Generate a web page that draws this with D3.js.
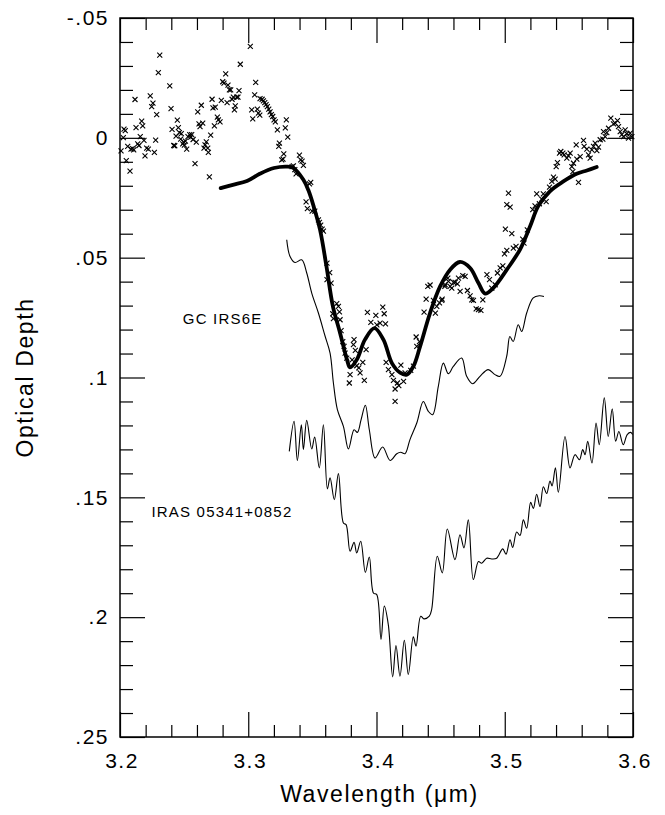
<!DOCTYPE html>
<html>
<head>
<meta charset="utf-8">
<script src="https://cdn.jsdelivr.net/npm/d3@7"></script>
<style>
  body { margin: 0; background: #fff; }
  text { font-family: "Liberation Sans", Arial, sans-serif; fill: #000; }
</style>
</head>
<body>
<script>
// observed optical depth, GC IRS6E (x markers)
var points = [
  [3.2008,0.0054],[3.2026,-0.0001],[3.2031,-0.0036],[3.2041,-0.003],[3.2049,0.0095],[3.206,0.0036],
  [3.2078,0.0139],[3.2086,0.0047],[3.2099,0.0045],[3.2107,0.005],[3.2117,-0.016],[3.2125,-0.0043],
  [3.2138,0.0025],[3.2148,0.0032],[3.2158,-0.0005],[3.2169,-0.007],[3.2177,-0.005],[3.2187,0.0011],
  [3.2195,0.0075],[3.2208,0.0043],[3.2221,0.0047],[3.2236,-0.0175],[3.2247,-0.013],[3.2257,-0.0145],
  [3.2268,0.0061],[3.2278,0.001],[3.2286,-0.0097],[3.2299,-0.0272],[3.231,-0.0345],[3.2388,-0.0217],
  [3.2398,-0.0122],[3.2406,-0.0035],[3.2419,0.0032],[3.2427,0.0033],[3.2437,-0.0007],[3.2447,-0.0074],
  [3.2455,-0.0043],[3.2463,-0.0022],[3.2473,0.0005],[3.2478,-0.0018],[3.2489,0.0025],[3.2497,0.0018],
  [3.2502,0.003],[3.251,0.0014],[3.252,0.0047],[3.253,-0.0005],[3.2544,-0.0013],[3.2551,-0.0003],
  [3.2559,-0.0013],[3.257,0.0007],[3.2585,0.0108],[3.2595,0.0018],[3.2606,-0.0108],[3.2616,-0.0058],
  [3.2624,-0.0047],[3.2634,-0.0136],[3.2645,-0.0061],[3.2655,0.0043],[3.2663,0.0029],[3.2673,0.0017],
  [3.2684,0.0043],[3.2689,0.0061],[3.2697,0.0163],[3.2707,-0.0011],[3.2718,-0.0161],[3.2725,-0.0125],
  [3.2736,-0.005],[3.2743,-0.0128],[3.2759,-0.0086],[3.2767,-0.0075],[3.278,-0.0067],[3.279,-0.0156],
  [3.2801,-0.0234],[3.2811,-0.0228],[3.2824,-0.0267],[3.2835,-0.0147],[3.2842,-0.022],[3.2853,-0.02],
  [3.2863,-0.02],[3.2874,-0.0161],[3.2884,-0.017],[3.2892,-0.0117],[3.2899,-0.0133],[3.291,-0.017],
  [3.292,-0.017],[3.2928,-0.0197],[3.2938,-0.0307],[3.3016,-0.0382],[3.3027,-0.0117],[3.3035,-0.0079],
  [3.3058,-0.0231],[3.305,-0.0179],[3.3079,-0.0103],[3.309,-0.0095],[3.3071,-0.012],
  [3.3092,-0.0164],[3.3108,-0.0161],[3.3118,-0.0154],[3.3129,-0.0147],[3.3139,-0.0139],[3.3149,-0.013],
  [3.316,-0.012],[3.317,-0.0108],[3.318,-0.0097],[3.3191,-0.0089],[3.3201,-0.0075],[3.3211,-0.0067],
  [3.3227,-0.0033],[3.3243,0.0022],[3.3238,0.0036],[3.3261,0.0092],[3.3271,0.0089],[3.3277,0.0067],
  [3.3289,-0.0042],[3.3297,-0.0075],[3.3308,-0.0003],[3.3342,0.012],[3.3352,0.0117],[3.3363,0.0133],
  [3.3373,0.015],[3.3399,0.0072],[3.3409,0.0092],[3.342,0.0097],[3.343,0.0115],[3.3451,0.0267],
  [3.3461,0.0295],[3.3477,0.0192],[3.3487,0.0186],[3.3498,0.0306],[3.3519,0.0306],[3.3547,0.0342],
  [3.3555,0.0353],[3.3565,0.0364],[3.3576,0.0381],[3.3586,0.0389],
  [3.3614,0.0523],[3.3635,0.0562],[3.3614,0.0592],[3.3646,0.0606],[3.369,0.0692],[3.3703,0.0703],
  [3.3711,0.0726],[3.3659,0.0734],[3.3664,0.0754],[3.3716,0.0759],[3.3724,0.0804],[3.3737,0.085],
  [3.3747,0.087],[3.3755,0.0898],[3.3768,0.0919],[3.3825,0.0842],[3.382,0.0863],[3.3835,0.0887],
  [3.381,0.0926],[3.3846,0.0951],[3.3862,0.096],[3.3872,0.0981],[3.3893,0.0937],[3.3794,0.0988],
  [3.3788,0.1023],[3.3905,0.1012],[3.3919,0.0884],[3.3929,0.0728],[3.3956,0.077],[3.3995,0.0741],
  [3.4003,0.078],[3.4028,0.0773],[3.4049,0.0706],[3.406,0.0734],[3.407,0.0776],[3.4075,0.0937],
  [3.4093,0.0967],[3.412,0.0988],[3.4132,0.1012],[3.4163,0.1023],[3.4145,0.1048],[3.4174,0.1034],
  [3.419,0.0948],[3.4211,0.1016],[3.4145,0.11],[3.4223,0.0981],[3.4267,0.097],[3.4288,0.0953],
  [3.4309,0.0831],[3.4314,0.087],[3.4335,0.085],[3.4371,0.0727],[3.4387,0.0673],[3.44,0.062],
  [3.4418,0.0614],[3.4444,0.0678],[3.4459,0.0731],[3.447,0.0703],[3.4491,0.0689],[3.4512,0.0673],
  [3.4533,0.062],[3.4556,0.0585],[3.4574,0.062],[3.46,0.0603],[3.4631,0.0609],
  [3.4509,0.0678],[3.4535,0.0613],[3.4561,0.0599],[3.4587,0.0627],[3.4613,0.0603],[3.4639,0.0585],
  [3.4652,0.0641],[3.4673,0.0575],[3.4691,0.0578],[3.4709,0.0637],[3.473,0.0659],[3.4743,0.0676],
  [3.4756,0.0678],[3.4777,0.0714],[3.4795,0.0717],[3.4814,0.072],[3.4829,0.0676],[3.4861,0.0571],
  [3.4881,0.0592],[3.4899,0.0627],[3.4925,0.0613],[3.4943,0.0564],[3.4964,0.0543],[3.4985,0.0534],
  [3.4998,0.0484],[3.5016,0.047],[3.5005,0.0381],[3.5055,0.04],[3.5016,0.0279],[3.5042,0.0289],
  [3.5029,0.0231],[3.5067,0.046],[3.5088,0.0453],[3.514,0.0423],[3.515,0.0439],[3.5176,0.0384],
  [3.5218,0.03],[3.5236,0.0284],[3.5249,0.0234],[3.527,0.0275],[3.5288,0.0256],[3.5301,0.0234],
  [3.5323,0.0266],[3.5349,0.0206],[3.5367,0.0182],[3.538,0.0164],[3.5393,0.0172],[3.5401,0.012],
  [3.5411,0.0103],[3.5427,0.0064],[3.5437,0.0057],[3.5453,0.0064],[3.5463,0.0071],[3.5484,0.0085],
  [3.5497,0.0075],[3.551,0.0064],[3.5523,0.012],[3.5536,0.0106],[3.5531,0.0141],[3.5562,0.0089],
  [3.5575,0.0186],[3.5557,0.0029],[3.5588,0.0078],[3.5614,0.0011],[3.5619,0.0036],[3.564,0.0047],
  [3.5653,0.0071],[3.5666,0.0085],[3.5679,0.005],[3.5692,0.0036],[3.5705,0.0022],[3.5718,0.0053],
  [3.5731,0.0039],[3.5744,0.0008],[3.5765,0.0005],[3.5783,-0.0005],[3.577,-0.0026],[3.5796,-0.0022],
  [3.5809,-0.004],[3.5827,-0.0082],[3.5848,-0.0058],[3.5861,-0.0061],[3.5879,-0.0072],[3.5887,-0.0047],
  [3.59,-0.0026],[3.5913,-0.0013],[3.5926,-0.0005],[3.5939,-0.0033],[3.5952,-0.0017],[3.5965,0.0001],
  [3.5978,-0.002],[3.5991,-0.0005]
];

// fitted model (thick line)
var modelFit = [
  [3.2785,0.021],[3.288,0.0196],[3.299,0.018],[3.309,0.015],[3.320,0.0126],[3.330,0.012],[3.335,0.0125],
  [3.343,0.0175],[3.347,0.022],[3.351,0.0286],[3.356,0.0384],[3.361,0.0537],[3.366,0.0703],[3.3716,0.0814],
  [3.377,0.0926],[3.3794,0.0958],[3.3846,0.0926],[3.391,0.0842],[3.3984,0.0794],[3.4054,0.0842],
  [3.412,0.094],[3.4184,0.098],[3.4236,0.0988],[3.4288,0.0953],[3.434,0.087],[3.4418,0.073],
  [3.4496,0.062],[3.4574,0.055],[3.465,0.0518],[3.473,0.0543],[3.4795,0.0606],[3.4847,0.065],
  [3.491,0.0627],[3.5016,0.055],[3.512,0.0465],[3.5197,0.037],[3.526,0.0286],[3.535,0.0224],
  [3.5457,0.0182],[3.556,0.015],[3.564,0.0136],[3.5717,0.0122]
];

// GC IRS6E spectrum, offset
var gcSpectrum = [
  [3.33,0.0425],[3.3326,0.0495],[3.3365,0.052],[3.3417,0.0509],[3.3456,0.0564],[3.3495,0.0648],
  [3.3547,0.0731],[3.36,0.0829],[3.3638,0.0898],[3.3664,0.1023],[3.3695,0.1134],[3.3742,0.1204],
  [3.3781,0.1298],[3.3825,0.1218],[3.3851,0.1229],[3.388,0.1176],[3.3913,0.1116],[3.3944,0.1218],
  [3.3989,0.1336],[3.4048,0.129],[3.4106,0.1346],[3.4158,0.1318],[3.4189,0.1312],[3.4222,0.1318],
  [3.4261,0.1259],[3.4314,0.119],[3.4365,0.11],[3.4404,0.1141],[3.4438,0.1155],[3.4482,0.1037],
  [3.4521,0.094],[3.456,0.0984],[3.4599,0.0954],[3.4664,0.0919],[3.4703,0.0995],[3.475,0.1026],
  [3.4807,0.0995],[3.4871,0.0967],[3.4924,0.0988],[3.4963,0.0995],[3.5015,0.0912],[3.504,0.0829],
  [3.5066,0.085],[3.5105,0.078],[3.5132,0.0808],[3.5171,0.0731],[3.5222,0.0668],[3.5269,0.0659],
  [3.5306,0.0662]
];

// IRAS 05341+0852 spectrum, offset
var irasSpectrum = [
  [3.332,0.1308],[3.3357,0.1183],[3.3383,0.1346],[3.3414,0.1197],[3.343,0.1301],[3.3456,0.1179],
  [3.3495,0.1298],[3.3518,0.1248],[3.3554,0.1377],[3.3586,0.1197],[3.3617,0.1465],[3.3638,0.1419],
  [3.3671,0.151],[3.3703,0.1401],[3.3742,0.1607],[3.3763,0.1614],[3.3794,0.1725],[3.3825,0.1688],
  [3.3846,0.1732],[3.3877,0.1683],[3.3913,0.1813],[3.3944,0.1749],[3.3976,0.1899],[3.4002,0.1906],
  [3.4035,0.2093],[3.4061,0.1954],[3.4092,0.2031],[3.4126,0.2249],[3.4152,0.2118],[3.4183,0.2246],
  [3.4217,0.2096],[3.4248,0.2239],[3.4287,0.2082],[3.4308,0.2121],[3.4345,0.1996],[3.437,0.2007],
  [3.4412,0.1996],[3.443,0.1968],[3.4474,0.1746],[3.4513,0.1815],[3.4552,0.1632],[3.4612,0.176],
  [3.4651,0.1656],[3.4682,0.1711],[3.4716,0.1594],[3.4755,0.1843],[3.4795,0.1768],[3.482,0.1775],
  [3.4859,0.1754],[3.4898,0.1757],[3.4937,0.1754],[3.4984,0.1715],[3.501,0.1737],[3.5041,0.1677],
  [3.5062,0.1709],[3.5093,0.1645],[3.5119,0.1659],[3.5145,0.1594],[3.5171,0.1629],[3.5202,0.1521],
  [3.5223,0.1546],[3.5249,0.1487],[3.5275,0.1539],[3.5301,0.1456],[3.5327,0.1484],[3.5353,0.1432],
  [3.5369,0.1452],[3.5395,0.1377],[3.5418,0.1479],[3.547,0.1246],[3.5509,0.1377],[3.5548,0.1322],
  [3.5582,0.1343],[3.5608,0.1301],[3.5626,0.1322],[3.5647,0.1266],[3.568,0.1357],[3.5712,0.119],
  [3.5737,0.128],[3.5776,0.1085],[3.5807,0.1246],[3.5838,0.1131],[3.5865,0.1266],[3.589,0.1225],
  [3.5924,0.128],[3.5955,0.1238],[3.5982,0.1229],[3.5997,0.1238]
];

var xMajor = [3.2, 3.3, 3.4, 3.5, 3.6];
var yMajor = [-0.05, 0, 0.05, 0.1, 0.15, 0.2, 0.25];
var yTickLabels = ["-.05", "0", ".05", ".1", ".15", ".2", ".25"];

var labels = [
  {text: "GC IRS6E", wl: 3.2490, tau: 0.0778},
  {text: "IRAS 05341+0852", wl: 3.2245, tau: 0.1584}
];

var width = 665,
    height = 815,
    plotLeft = 120, plotRight = 633, plotTop = 18, plotBottom = 737;

var svg = d3.select("body").append("svg")
    .attr("width", width)
    .attr("height", height);

var x = d3.scaleLinear().domain([3.2, 3.6]).range([plotLeft, plotRight]);
var y = d3.scaleLinear().domain([-0.05, 0.25]).range([plotTop, plotBottom]);

// minor ticks
var xMinor = d3.range(0, 21).map(function(i) { return +(3.2 + i * 0.02).toFixed(2); })
    .filter(function(v) { return xMajor.indexOf(v) < 0; });
var yMinor = d3.range(0, 31).map(function(i) { return +(-0.05 + i * 0.01).toFixed(2); })
    .filter(function(v) { return yMajor.indexOf(v) < 0; });

function noLabel() { return ""; }

// bottom axis
svg.append("g").attr("transform", "translate(0," + plotBottom + ")")
    .call(d3.axisBottom(x).tickValues(xMinor).tickSize(-12).tickSizeOuter(0).tickFormat(noLabel));
var xAxis = svg.append("g").attr("transform", "translate(0," + plotBottom + ")")
    .call(d3.axisBottom(x).tickValues(xMajor).tickSize(-25).tickSizeOuter(0)
      .tickFormat(d3.format(".1f")));
xAxis.selectAll("text").attr("y", 31).attr("dy", 0).attr("dx", "0.07em");

// top axis
svg.append("g").attr("transform", "translate(0," + plotTop + ")")
    .call(d3.axisTop(x).tickValues(xMinor).tickSize(-12).tickSizeOuter(0).tickFormat(noLabel));
svg.append("g").attr("transform", "translate(0," + plotTop + ")")
    .call(d3.axisTop(x).tickValues(xMajor).tickSize(-25).tickSizeOuter(0).tickFormat(noLabel));

// left axis
svg.append("g").attr("transform", "translate(" + plotLeft + ",0)")
    .call(d3.axisLeft(y).tickValues(yMinor).tickSize(-13).tickSizeOuter(0).tickFormat(noLabel));
svg.append("g").attr("transform", "translate(" + plotLeft + ",0)")
    .call(d3.axisLeft(y).tickValues(yMajor).tickSize(-25).tickSizeOuter(0).tickPadding(11)
      .tickFormat(function(d, i) { return yTickLabels[i]; }));

// right axis
svg.append("g").attr("transform", "translate(" + plotRight + ",0)")
    .call(d3.axisRight(y).tickValues(yMinor).tickSize(-13).tickSizeOuter(0).tickFormat(noLabel));
svg.append("g").attr("transform", "translate(" + plotRight + ",0)")
    .call(d3.axisRight(y).tickValues(yMajor).tickSize(-25).tickSizeOuter(0).tickFormat(noLabel));

svg.selectAll(".tick line").attr("stroke", "#000").attr("stroke-width", 1.2);
svg.selectAll(".domain").remove();
svg.selectAll(".tick text")
    .attr("font-family", null).attr("font-size", null)
    .style("font-family", "Liberation Sans, Arial, sans-serif")
    .style("font-size", "21px")
    .style("letter-spacing", "1.5px")
    .attr("fill", "#000");

// frame
svg.append("rect")
    .attr("x", plotLeft).attr("y", plotTop)
    .attr("width", plotRight - plotLeft).attr("height", plotBottom - plotTop)
    .attr("fill", "none").attr("stroke", "#000").attr("stroke-width", 1.5);

// axis titles
svg.append("text")
    .attr("x", (plotLeft + plotRight) / 2 + 3).attr("y", 802)
    .attr("text-anchor", "middle")
    .style("font-size", "23px")
    .style("letter-spacing", "1.6px")
    .text("Wavelength (\u03bcm)");

svg.append("text")
    .attr("transform", "translate(33," + (plotTop + plotBottom) / 2 + ") rotate(-90)")
    .attr("text-anchor", "middle")
    .style("font-size", "23px")
    .style("letter-spacing", "1.6px")
    .text("Optical Depth");

var line = d3.line()
    .x(function(d) { return x(d[0]); })
    .y(function(d) { return y(d[1]); })
    .curve(d3.curveCatmullRom.alpha(0.5));

svg.append("path").datum(gcSpectrum)
    .attr("d", line).attr("fill", "none").attr("stroke", "#000").attr("stroke-width", 1.1);

svg.append("path").datum(irasSpectrum)
    .attr("d", line).attr("fill", "none").attr("stroke", "#000").attr("stroke-width", 1.1);

// x markers
var s = 2.5;
svg.append("g").selectAll("path")
    .data(points)
    .enter().append("path")
    .attr("transform", function(d) { return "translate(" + x(d[0]) + "," + y(d[1]) + ")"; })
    .attr("d", "M" + (-s) + "," + (-s) + "L" + s + "," + s + "M" + (-s) + "," + s + "L" + s + "," + (-s))
    .attr("stroke", "#000").attr("stroke-width", 1.1);

svg.append("path").datum(modelFit)
    .attr("d", line).attr("fill", "none").attr("stroke", "#000").attr("stroke-width", 3.8)
    .attr("stroke-linejoin", "round").attr("stroke-linecap", "round");

// curve labels
svg.selectAll(".lbl")
    .data(labels)
    .enter().append("text")
    .attr("class", "lbl")
    .attr("x", function(d) { return x(d.wl); })
    .attr("y", function(d) { return y(d.tau); })
    .style("font-size", "15px")
    .style("letter-spacing", "1.2px")
    .text(function(d) { return d.text; });
</script>
</body>
</html>
